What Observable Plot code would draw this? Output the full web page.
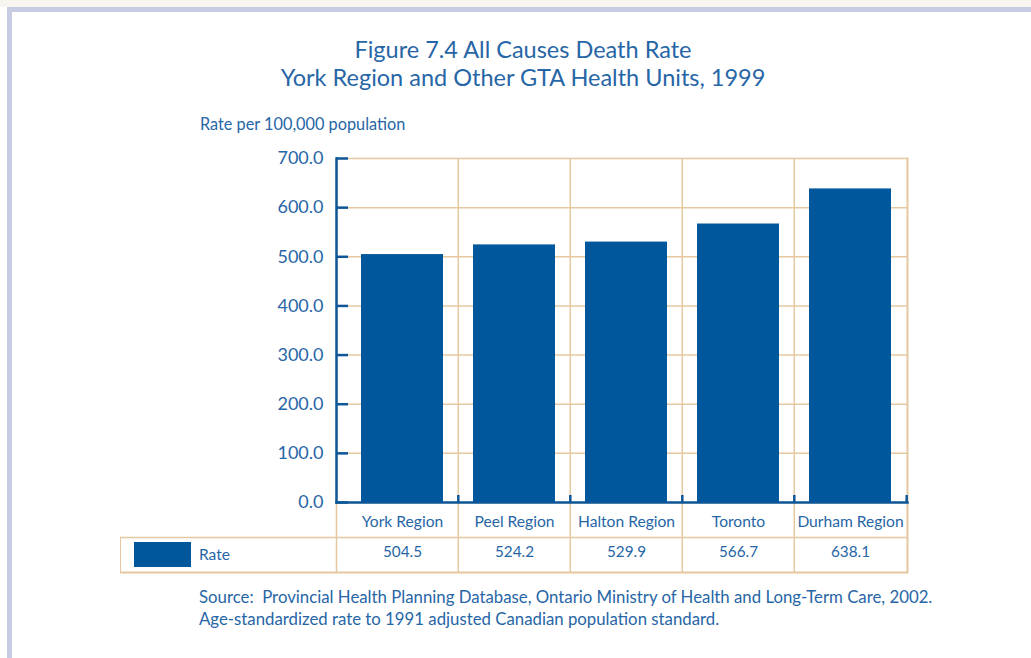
<!DOCTYPE html>
<html><head><meta charset="utf-8">
<script src="https://cdn.jsdelivr.net/npm/d3@7"></script>
<script src="https://cdn.jsdelivr.net/npm/@observablehq/plot@0.6"></script>
<style>
html,body{margin:0;padding:0;background:#fff;}
body{width:1031px;height:658px;position:relative;overflow:hidden;font-family:Lato,"Open Sans",sans-serif;color:#2766a6;}
#strip{position:absolute;left:0;top:0;width:1031px;height:7px;background:#f8f4ef;}
#frame{position:absolute;left:7px;top:7px;width:1024px;height:651px;border-top:5px solid #c7cce2;border-left:5px solid #c7cce2;box-sizing:border-box;}
#title{position:absolute;left:0;width:1046px;top:35px;text-align:center;font-size:23.5px;line-height:28px;}
#ylabel{position:absolute;left:200px;top:114px;font-size:16.3px;line-height:20px;}
#chart{position:absolute;left:0;top:0;}
#legend{position:absolute;left:120px;top:537px;width:216px;height:35px;border-left:1.5px solid #e4c8a0;box-sizing:border-box;}
#swatch{position:absolute;left:13px;top:5px;width:57px;height:25px;background:#01579b;}
#legtext{position:absolute;left:78px;top:7px;font-size:15.5px;line-height:20px;}
#source{position:absolute;left:199px;top:586px;font-size:16.8px;line-height:22px;}
</style></head>
<body>
<div id="strip"></div>
<div id="frame"></div>
<div id="title">Figure 7.4 All Causes Death Rate<br>York Region and Other GTA Health Units, 1999</div>
<div id="ylabel">Rate per 100,000 population</div>
<div id="chart"></div>
<div id="legend"><div id="swatch"></div><div id="legtext">Rate</div></div>
<div id="source">Source:&nbsp;&nbsp;Provincial Health Planning Database, Ontario Ministry of Health and Long-Term Care, 2002.<br>Age-standardized rate to 1991 adjusted Canadian population standard.</div>
<script>
const categories = ["York Region", "Peel Region", "Halton Region", "Toronto", "Durham Region"];
const rates = [504.5, 524.2, 529.9, 566.7, 638.1];
const yTicks = [0, 100, 200, 300, 400, 500, 600, 700];

const data = categories.map((c, i) => ({category: c, rate: rates[i]}));
const tan = "#e4c8a0", barBlue = "#01579b", axisBlue = "#0d5799", textBlue = "#2766a6";
const step = (907 - 345) / categories.length;

const chart = Plot.plot({
  width: 1031, height: 658,
  marginLeft: 336, marginRight: 124, marginTop: 158, marginBottom: 156,
  style: {background: "transparent", fontFamily: "Lato, 'Open Sans', sans-serif", color: textBlue, overflow: "visible"},
  x: {domain: categories, range: [345, 907], paddingInner: 0.267, paddingOuter: 0.1335},
  y: {domain: [0, 700]},
  marks: [
    Plot.ruleY(yTicks, {stroke: tan, strokeWidth: 1.5}),
    Plot.ruleX(categories.slice(1), {dx: -step / 2, y1: 700, y2: 0, insetBottom: -70, stroke: tan, strokeWidth: 1.5}),
    Plot.frame({anchor: "left", stroke: tan, strokeWidth: 1.5, insetBottom: -70}),
    Plot.frame({anchor: "right", stroke: tan, strokeWidth: 2, insetBottom: -70}),
    Plot.ruleY([0], {dy: 35, insetLeft: -216, stroke: tan, strokeWidth: 1.5}),
    Plot.ruleY([0], {dy: 70, insetLeft: -216, stroke: tan, strokeWidth: 2}),
    Plot.barY(data, {x: "category", y: "rate", fill: barBlue}),
    Plot.frame({anchor: "left", stroke: axisBlue, strokeWidth: 2.5}),
    Plot.frame({anchor: "bottom", stroke: axisBlue, strokeWidth: 2.5}),
    Plot.ruleX(categories.slice(1), {dx: -step / 2, y1: 0, y2: 0, insetTop: -7, stroke: axisBlue, strokeWidth: 2.5}),
    Plot.ruleX(categories.slice(-1), {dx: step / 2, y1: 0, y2: 0, insetTop: -7, stroke: axisBlue, strokeWidth: 2.5}),
    Plot.axisY({ticks: yTicks, tickFormat: d => d.toFixed(1), tickSize: 12, dx: 12, tickPadding: 13, fontSize: 18, stroke: axisBlue, strokeWidth: 2.5, fill: textBlue, label: null}),
    Plot.axisX({tickSize: 0, tickPadding: 13, fontSize: 15.6, fill: textBlue, label: null}),
    Plot.text(data, {x: "category", text: d => d.rate.toFixed(1), frameAnchor: "bottom", dy: 54, fontSize: 15.3, fill: textBlue})
  ]
});
document.getElementById("chart").appendChild(chart);
</script>
</body></html>
